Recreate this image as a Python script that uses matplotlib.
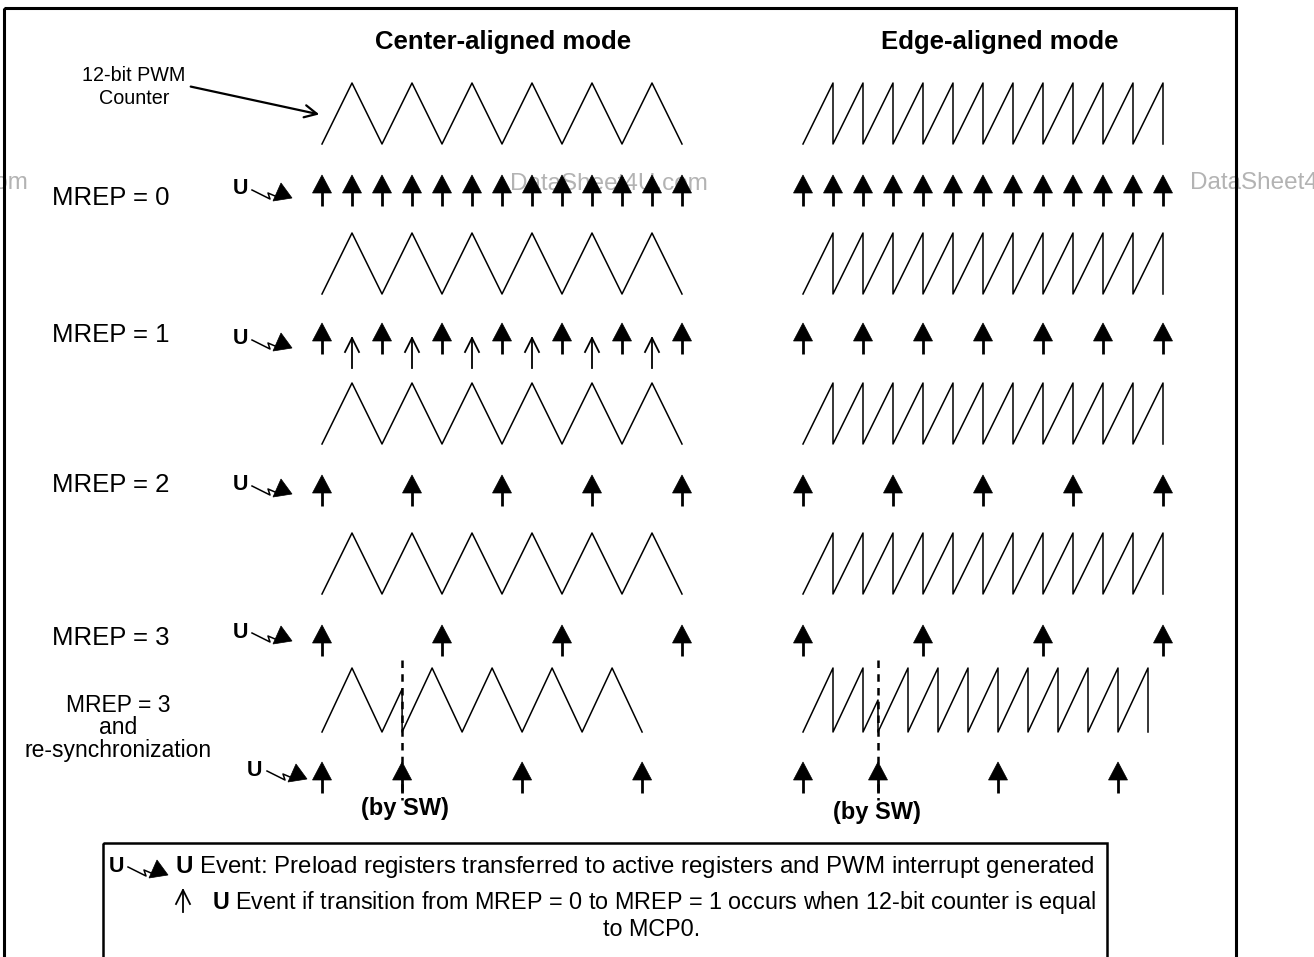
import matplotlib
matplotlib.use("Agg")
import matplotlib.pyplot as plt
from matplotlib.patches import Rectangle, Polygon

plt.rcParams['font.family'] = ['Liberation Sans', 'DejaVu Sans']
plt.rcParams['mathtext.fontset'] = 'custom'
plt.rcParams['mathtext.rm'] = 'Liberation Sans'
plt.rcParams['mathtext.bf'] = 'Liberation Sans:bold'

# titles and labels
mode_titles = ["Center-aligned mode", "Edge-aligned mode"]
row_labels = ["MREP = 0", "MREP = 1", "MREP = 2", "MREP = 3"]
resync_label = "MREP = 3\nand\nre-synchronization"
counter_label = "12-bit PWM\nCounter"
legend_lines = [r"$\mathbf{U}$ Event: Preload registers transferred to active registers and PWM interrupt generated",
                r"$\mathbf{U}$ Event if transition from MREP = 0 to MREP = 1 occurs when 12-bit counter is equal",
                "to MCP0."]

# counter waveforms (time in counter steps, level 0 = bottom, 1 = top)
center_t = [0, 1, 2, 3, 4, 5, 6, 7, 8, 9, 10, 11, 12]
center_level = [0, 1, 0, 1, 0, 1, 0, 1, 0, 1, 0, 1, 0]
edge_t = [0, 1, 1, 2, 2, 3, 3, 4, 4, 5, 5, 6, 6, 7, 7, 8, 8, 9, 9, 10, 10, 11, 11, 12, 12]
edge_level = [0, 1, 0, 1, 0, 1, 0, 1, 0, 1, 0, 1, 0, 1, 0, 1, 0, 1, 0, 1, 0, 1, 0, 1, 0]

center_resync_t = [0, 1, 2, 2.67, 2.67, 3.67, 4.67, 5.67, 6.67, 7.67, 8.67, 9.67, 10.67]
center_resync_level = [0, 1, 0, 0.67, 0, 1, 0, 1, 0, 1, 0, 1, 0]
edge_resync_t = [0, 1, 1, 2, 2, 2.5, 2.5, 3.5, 3.5, 4.5, 4.5, 5.5, 5.5, 6.5, 6.5, 7.5, 7.5,
                 8.5, 8.5, 9.5, 9.5, 10.5, 10.5, 11.5, 11.5]
edge_resync_level = [0, 1, 0, 1, 0, 0.5, 0, 1, 0, 1, 0, 1, 0, 1, 0, 1, 0, 1, 0, 1, 0, 1, 0, 1, 0]

# U events per row (same time units)
center_events = [[0, 1, 2, 3, 4, 5, 6, 7, 8, 9, 10, 11, 12],
                 [0, 2, 4, 6, 8, 10, 12],
                 [0, 3, 6, 9, 12],
                 [0, 4, 8, 12],
                 [0, 2.67, 6.67, 10.67]]
edge_events = [[0, 1, 2, 3, 4, 5, 6, 7, 8, 9, 10, 11, 12],
               [0, 2, 4, 6, 8, 10, 12],
               [0, 3, 6, 9, 12],
               [0, 4, 8, 12],
               [0, 2.5, 6.5, 10.5]]
mcp0_events = [1, 3, 5, 7, 9, 11]
sw_reset = [2.67, 2.5]

# layout (pixels)
X0 = [322, 803]
STEP = 30
WAVE_TOP = [83, 233, 383, 533, 668]
WAVE_H = [61, 61, 61, 61, 64]
ARROW_TOP = [175, 323, 475, 625, 762]
U_POS = [(240, 189), (240, 339), (240, 485), (240, 632), (255, 770)]
LABEL_Y = [198, 335, 485, 638]

fig = plt.figure(figsize=(13.14, 9.57), dpi=100)
ax = fig.add_axes([0, 0, 1, 1])
ax.set_xlim(0, 1314)
ax.set_ylim(957, 0)
ax.axis('off')


def tx(t, side):
    return X0[side] + t * STEP


def up_arrow(x, ytop):
    ax.add_patch(Polygon([(x - 9.5, ytop + 18), (x, ytop), (x + 9.5, ytop + 18)],
                         closed=True, fc='k', ec='k', lw=0.5, zorder=3))
    ax.plot([x, x], [ytop + 15, ytop + 31], color='k', lw=2.0, solid_capstyle='butt', zorder=3)


def open_arrow(x, ytop, length=30):
    ax.plot([x, x], [ytop, ytop + length], color='k', lw=1.3, zorder=3)
    ax.plot([x - 7, x, x + 7], [ytop + 14, ytop, ytop + 14], color='k', lw=1.3, zorder=3)


def u_symbol(ux, uy):
    ax.text(ux, uy, "U", fontsize=15.5, fontweight='bold', ha='center', va='center')
    ax.plot([ux + 12, ux + 30, ux + 28, ux + 35], [uy + 1, uy + 10, uy + 4, uy + 7],
            color='k', lw=1.1)
    ax.add_patch(Polygon([(ux + 41, uy - 6), (ux + 52, uy + 9), (ux + 33, uy + 12)],
                         closed=True, fc='k', ec='k', lw=0.5))


def wave(ts, levels, side, row):
    xs = [tx(t, side) for t in ts]
    ys = [WAVE_TOP[row] + WAVE_H[row] * (1 - v) for v in levels]
    ax.plot(xs, ys, color='k', lw=1.1)


# watermarks
wm = dict(fontsize=17.5, color='#b3b3b3', va='center', zorder=1)
ax.text(609, 184, "DataSheet4U.com", ha='center', **wm)
ax.text(28, 183, "DataSheet4U.com", ha='right', **wm)
ax.text(1190, 183, "DataSheet4U.com", ha='left', **wm)

# outer frame and legend frame
ax.add_patch(Rectangle((4, 8), 1232, 960, fill=False, ec='k', lw=2.2, zorder=4))
ax.add_patch(Rectangle((103, 843), 1004, 130, fill=False, ec='k', lw=1.8, zorder=4))

# titles
ax.text(503, 42, mode_titles[0], fontsize=18.5, fontweight='bold', ha='center', va='center')
ax.text(1000, 42, mode_titles[1], fontsize=18.5, fontweight='bold', ha='center', va='center')

ax.text(134, 87, counter_label, fontsize=14.2, ha='center', va='center', linespacing=1.3)
ax.annotate("", xy=(322, 115), xytext=(188, 86),
            arrowprops=dict(arrowstyle='->', color='k', lw=1.6, mutation_scale=22))

# waveforms
for row in range(4):
    wave(center_t, center_level, 0, row)
    wave(edge_t, edge_level, 1, row)
wave(center_resync_t, center_resync_level, 0, 4)
wave(edge_resync_t, edge_resync_level, 1, 4)

# U events
for row in range(5):
    for t in center_events[row]:
        up_arrow(tx(t, 0), ARROW_TOP[row])
    for t in edge_events[row]:
        up_arrow(tx(t, 1), ARROW_TOP[row])
    u_symbol(*U_POS[row])

for t in mcp0_events:
    open_arrow(tx(t, 0), ARROW_TOP[1] + 15)

# row labels
for lab, y in zip(row_labels, LABEL_Y):
    ax.text(52, y, lab, fontsize=18.5, ha='left', va='center')
ax.text(118, 728, resync_label, fontsize=16.5, ha='center', va='center', linespacing=1.0)

# software re-synchronization
for side in range(2):
    xr = tx(sw_reset[side], side)
    ax.plot([xr, xr], [WAVE_TOP[4] - 8, ARROW_TOP[4] + 38], color='k', lw=1.8,
            linestyle=(0, (3, 2.5)), zorder=2)
ax.text(405, 808, "(by SW)", fontsize=17, fontweight='bold', ha='center', va='center')
ax.text(877, 813, "(by SW)", fontsize=17, fontweight='bold', ha='center', va='center')

# legend
u_symbol(116, 866)
ax.text(175, 867, legend_lines[0], fontsize=17.3, ha='left', va='center')
open_arrow(183, 890, 22)
ax.text(212, 902, legend_lines[1], fontsize=16.8, ha='left', va='center')
ax.text(652, 929, legend_lines[2], fontsize=16.8, ha='center', va='center')

fig.savefig("out.png", dpi=100)
